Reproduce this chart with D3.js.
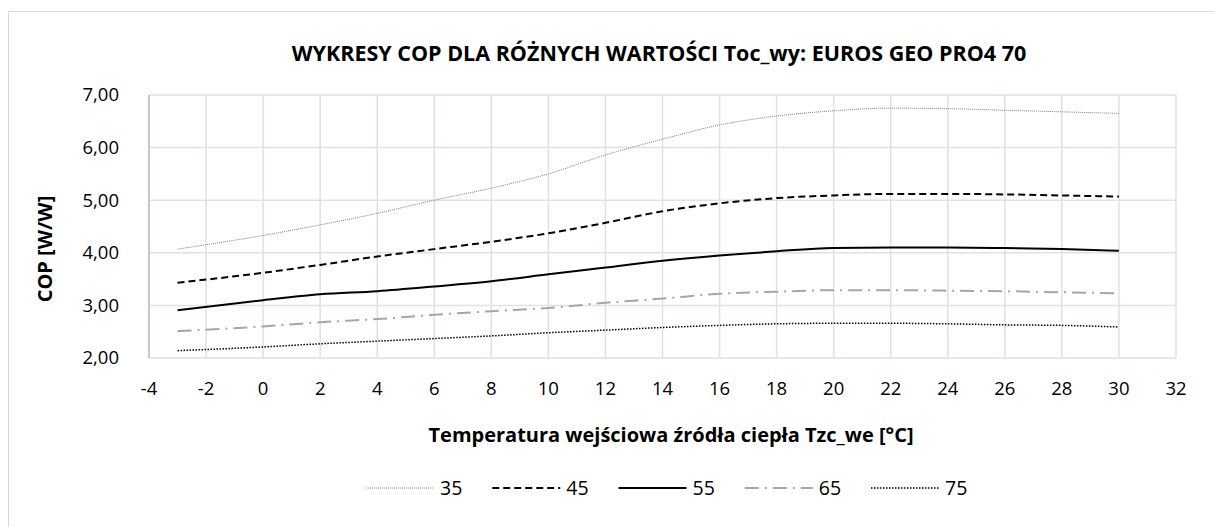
<!DOCTYPE html>
<html>
<head>
<meta charset="utf-8">
<script src="https://cdn.jsdelivr.net/npm/d3@7"></script>
<style>
  body{margin:0;background:#fff;}
  text{font-family:"Open Sans",sans-serif;fill:#000;}
</style>
</head>
<body>
<div id="chart"></div>
<script>
// data
const temps=[-3,0,2,4,6,8,10,12,14,16,18,20,22,24,26,28,30];
const cop35=[4.07,4.33,4.53,4.75,5.00,5.23,5.50,5.86,6.16,6.43,6.60,6.70,6.75,6.74,6.71,6.68,6.65];
const cop45=[3.43,3.62,3.77,3.93,4.07,4.21,4.37,4.57,4.79,4.94,5.04,5.09,5.12,5.12,5.11,5.09,5.07];
const cop55=[2.91,3.10,3.21,3.27,3.36,3.46,3.59,3.72,3.85,3.95,4.03,4.09,4.10,4.10,4.09,4.07,4.04];
const cop65=[2.51,2.60,2.68,2.74,2.82,2.89,2.95,3.05,3.13,3.22,3.26,3.29,3.29,3.28,3.27,3.25,3.23];
const cop75=[2.14,2.21,2.27,2.32,2.37,2.42,2.48,2.53,2.58,2.62,2.65,2.66,2.66,2.65,2.63,2.62,2.59];
const seriesNames=["35","45","55","65","75"];
const xTicks=d3.range(-4,33,2);
const yTicks=[2,3,4,5,6,7];

const styles={
  "35":{stroke:"#808080",width:1,dash:"1,1"},
  "45":{stroke:"#000",width:2,dash:"7,4"},
  "55":{stroke:"#000",width:2,dash:null},
  "65":{stroke:"#a6a6a6",width:2,dash:"14,6,2,6"},
  "75":{stroke:"#000",width:1.5,dash:"1.5,1.5"}
};

const width=1214,height=527;
const margin={top:95,right:38,bottom:169,left:149};

const svg=d3.select("#chart").append("svg")
  .attr("width",width).attr("height",height);

svg.append("rect")
  .attr("x",8.5).attr("y",11.5)
  .attr("width",width).attr("height",height)
  .attr("fill","#fff").attr("stroke","#d9d9d9");

const x=d3.scaleLinear().domain([-4,32]).range([margin.left,width-margin.right]);
const y=d3.scaleLinear().domain([2,7]).range([height-margin.bottom,margin.top]);

// grid
const grid=svg.append("g");
grid.selectAll("line.v").data(xTicks).enter().append("line")
  .attr("x1",d=>x(d)).attr("x2",d=>x(d))
  .attr("y1",y(2)).attr("y2",y(7))
  .attr("stroke","#dde1e8").attr("stroke-width",1.5);
grid.selectAll("line.h").data(yTicks).enter().append("line")
  .attr("x1",x(-4)).attr("x2",x(32))
  .attr("y1",d=>y(d)).attr("y2",d=>y(d))
  .attr("stroke","#dde1e8").attr("stroke-width",1.5);
// left axis line
svg.append("line")
  .attr("x1",x(-4)).attr("x2",x(-4))
  .attr("y1",y(2)).attr("y2",y(7))
  .attr("stroke","#b4bccf").attr("stroke-width",1.5);

// tick labels
svg.append("g").selectAll("text").data(yTicks).enter().append("text")
  .attr("x",119).attr("y",d=>y(d))
  .attr("dy","0.35em").attr("text-anchor","end")
  .attr("font-size",18.5)
  .text(d=>d3.format(".2f")(d).replace(".",","));
svg.append("g").selectAll("text").data(xTicks).enter().append("text")
  .attr("x",d=>x(d)).attr("y",389)
  .attr("dy","0.35em").attr("text-anchor","middle")
  .attr("font-size",18.5)
  .text(d=>d);

// titles
svg.append("text")
  .attr("x",659).attr("y",53).attr("dy","0.35em")
  .attr("text-anchor","middle").attr("font-size",21.5).attr("font-weight","bold")
  .text("WYKRESY COP DLA RÓŻNYCH WARTOŚCI Toc_wy: EUROS GEO PRO4 70");
svg.append("text")
  .attr("x",671).attr("y",435).attr("dy","0.35em")
  .attr("text-anchor","middle").attr("font-size",20).attr("font-weight","bold")
  .text("Temperatura wejściowa źródła ciepła Tzc_we [°C]");
svg.append("text")
  .attr("transform","translate(45,249) rotate(-90)")
  .attr("dy","0.35em")
  .attr("text-anchor","middle").attr("font-size",20).attr("font-weight","bold")
  .text("COP [W/W]");

// lines
const allValues={"35":cop35,"45":cop45,"55":cop55,"65":cop65,"75":cop75};
const line=d3.line()
  .x(d=>x(d[0])).y(d=>y(d[1]))
  .curve(d3.curveMonotoneX);

seriesNames.forEach(name=>{
  const st=styles[name];
  const pts=temps.map((t,i)=>[t,allValues[name][i]]);
  svg.append("path")
    .datum(pts)
    .attr("d",line)
    .attr("fill","none")
    .attr("stroke",st.stroke)
    .attr("stroke-width",st.width)
    .attr("stroke-dasharray",st.dash);
});

// legend
const legendX=d3.scalePoint().domain(seriesNames).range([366,871]);
const legend=svg.append("g");
seriesNames.forEach(name=>{
  const st=styles[name];
  const lx=legendX(name);
  legend.append("line")
    .attr("x1",lx).attr("x2",lx+68)
    .attr("y1",488).attr("y2",488)
    .attr("stroke",st.stroke)
    .attr("stroke-width",st.width)
    .attr("stroke-dasharray",st.dash);
  legend.append("text")
    .attr("x",lx+74).attr("y",488).attr("dy","0.35em")
    .attr("font-size",19.5)
    .text(name);
});
</script>
</body>
</html>
